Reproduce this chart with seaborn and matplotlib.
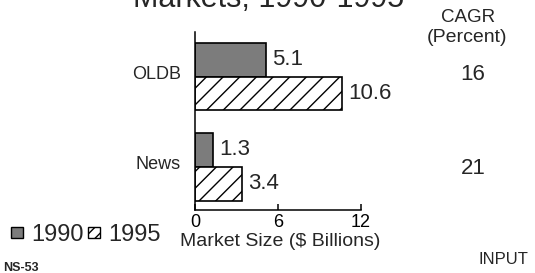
import numpy as np
import pandas as pd
from matplotlib import pyplot as plt
from matplotlib.patches import Patch
from matplotlib.transforms import ScaledTranslation
import seaborn as sns

segments = ["OLDB", "News"]
years = ["1990", "1995"]
size_1990 = [5.1, 1.3]
size_1995 = [10.6, 3.4]
cagr = ["16", "21"]
xticks = [0, 6, 12]

df = pd.DataFrame({
    "Segment": segments * 2,
    "Year": [years[0]] * 2 + [years[1]] * 2,
    "Size": size_1990 + size_1995,
})

sns.set_theme(style="white")
plt.rcParams['font.family'] = ['Liberation Sans', 'DejaVu Sans']

fig = plt.figure(figsize=(5.35, 2.73), dpi=100)
# axes box in pixels: x 195..361, y 32..210
ax = fig.add_axes([195 / 535, 1 - 210 / 273, (361 - 195) / 535, 178 / 273])

sns.barplot(data=df, y="Segment", x="Size", hue="Year", orient="h",
            palette=["#7c7c7c", "white"], width=0.75, gap=0,
            edgecolor="black", linewidth=1.2, legend=False, ax=ax)

for bar in ax.containers[1]:
    bar.set_hatch("//")

for cont in ax.containers:
    ax.bar_label(cont, fmt="%.1f", padding=4.5, fontsize=16)

ax.set_xlim(0, 12)
ax.set_ylim(1.478, -0.494)
ax.set_xticks(xticks)
ax.tick_params(axis="x", direction="in", length=4, width=1.1, pad=3,
               labelsize=13, bottom=True, colors="black")
ax.tick_params(axis="y", length=0, pad=10, labelsize=13)
# category labels sit a little above the middle of each group
shift = ScaledTranslation(0, 4 / 100, fig.dpi_scale_trans)
for lab in ax.get_yticklabels():
    lab.set_transform(lab.get_transform() + shift)
ax.set_xlabel("")
ax.set_ylabel("")
for s in ["top", "right"]:
    ax.spines[s].set_visible(False)
for s in ["left", "bottom"]:
    ax.spines[s].set_color("black")
    ax.spines[s].set_linewidth(1.1)

fig.text(280 / 535, 1 - 242 / 273, "Market Size ($ Billions)", ha="center",
         va="center", fontsize=14)
fig.text(269 / 535, 1 - 7 / 273, "Markets, 1990-1995", ha="center",
         va="baseline", fontsize=22)
fig.text(468 / 535, 1 - 17 / 273, "CAGR", ha="center", va="center",
         fontsize=13.5)
fig.text(467 / 535, 1 - 37 / 273, "(Percent)", ha="center", va="center",
         fontsize=14)
for val, yy in zip(cagr, [75, 168]):
    fig.text(473 / 535, 1 - yy / 273, val, ha="center", va="center",
             fontsize=16)
fig.text(503 / 535, 1 - 259 / 273, "INPUT", ha="center", va="center",
         fontsize=12)
fig.text(3 / 535, 1 - 268 / 273, "NS-53", ha="left", va="center",
         fontsize=9, fontweight="bold")

handles = [Patch(facecolor="#7c7c7c", edgecolor="black", linewidth=1),
           Patch(facecolor="white", edgecolor="black", linewidth=1, hatch="///")]
fig.legend(handles, years, loc="center left",
           bbox_to_anchor=(11 / 535, 1 - 235 / 273), ncol=2, frameon=False,
           fontsize=17, handlelength=0.5, handleheight=0.3,
           handletextpad=0.35, columnspacing=0.2, borderpad=0,
           borderaxespad=0)

fig.savefig("out.png", dpi=100)
